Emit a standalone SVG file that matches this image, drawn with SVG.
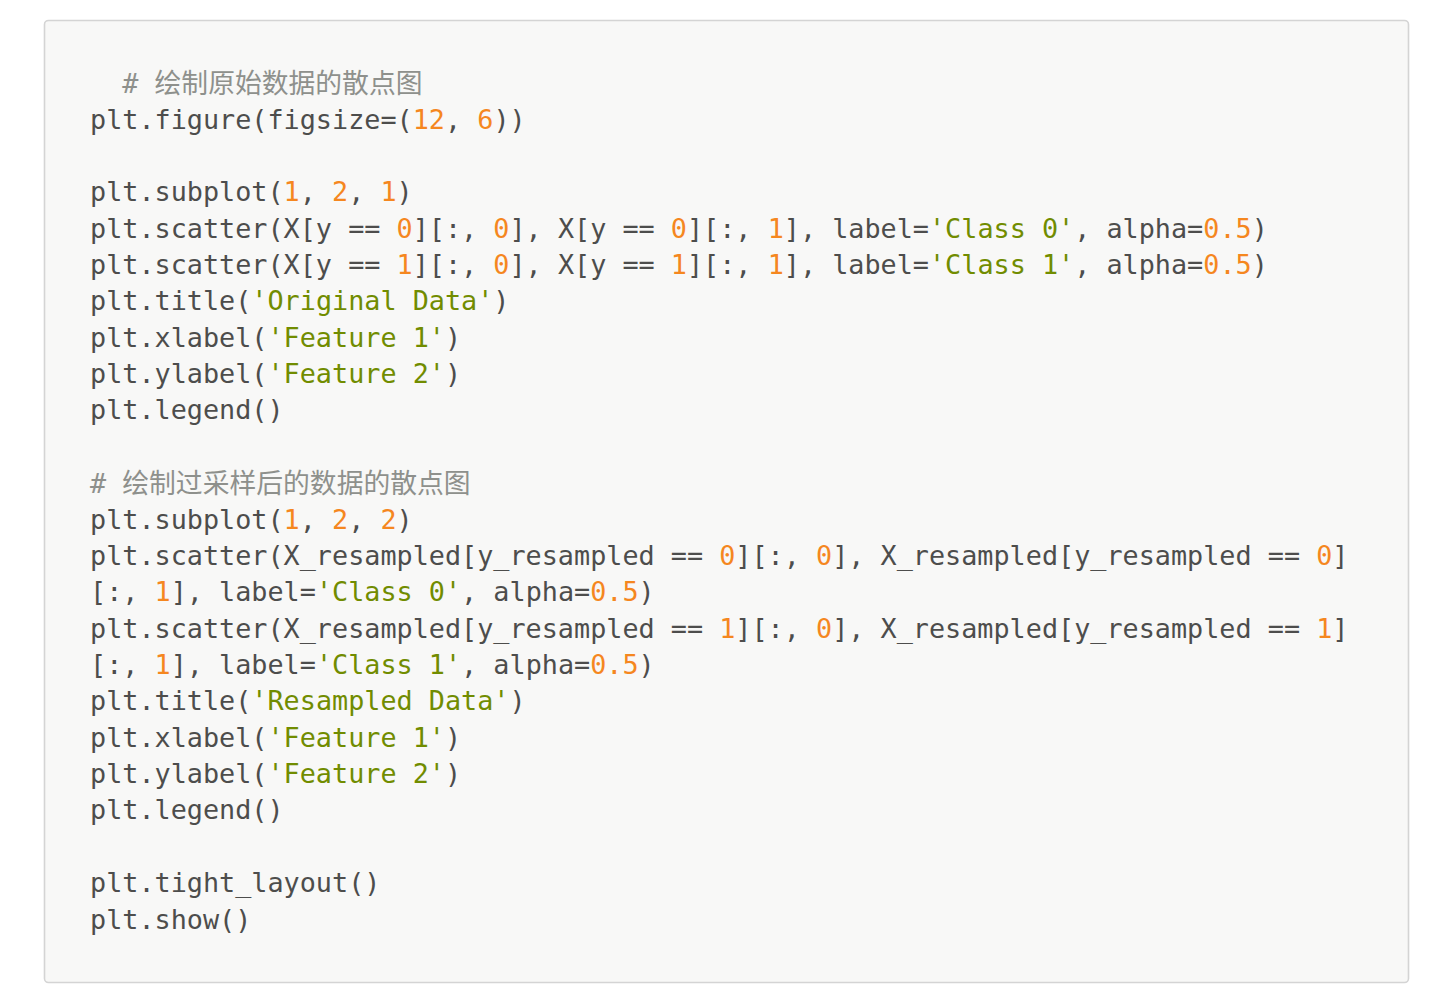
<svg xmlns="http://www.w3.org/2000/svg" width="1430" height="1002" viewBox="0 0 1430 1002">
<style>
text{font-family:"DejaVu Sans Mono","Noto Sans CJK SC",monospace;font-size:26.8px;fill:#4d4d4c;white-space:pre}
.c{fill:#8e908c}
.n{fill:#f5871f}
.s{fill:#718c00}
.cj{font-family:"Noto Sans CJK SC","DejaVu Sans Mono",sans-serif}
</style>
<rect x="44.5" y="20.5" width="1364" height="962" rx="4" fill="#f8f8f7" stroke="#d4d4d4" stroke-width="1.6"/>
<g id="code">
<text x="90" y="93" class="c" xml:space="preserve">  # <tspan class="cj">绘制原始数据的散点图</tspan></text>
<text x="90" y="128.5" xml:space="preserve">plt.figure(figsize=(<tspan class="n">12</tspan>, <tspan class="n">6</tspan>))</text>
<text x="90" y="201.2" xml:space="preserve">plt.subplot(<tspan class="n">1</tspan>, <tspan class="n">2</tspan>, <tspan class="n">1</tspan>)</text>
<text x="90" y="237.6" xml:space="preserve">plt.scatter(X[y == <tspan class="n">0</tspan>][:, <tspan class="n">0</tspan>], X[y == <tspan class="n">0</tspan>][:, <tspan class="n">1</tspan>], label=<tspan class="s">'Class 0'</tspan>, alpha=<tspan class="n">0.5</tspan>)</text>
<text x="90" y="273.9" xml:space="preserve">plt.scatter(X[y == <tspan class="n">1</tspan>][:, <tspan class="n">0</tspan>], X[y == <tspan class="n">1</tspan>][:, <tspan class="n">1</tspan>], label=<tspan class="s">'Class 1'</tspan>, alpha=<tspan class="n">0.5</tspan>)</text>
<text x="90" y="310.3" xml:space="preserve">plt.title(<tspan class="s">'Original Data'</tspan>)</text>
<text x="90" y="346.7" xml:space="preserve">plt.xlabel(<tspan class="s">'Feature 1'</tspan>)</text>
<text x="90" y="383" xml:space="preserve">plt.ylabel(<tspan class="s">'Feature 2'</tspan>)</text>
<text x="90" y="419.4" xml:space="preserve">plt.legend()</text>
<text x="90" y="493" class="c" xml:space="preserve"># <tspan class="cj">绘制过采样后的数据的散点图</tspan></text>
<text x="90" y="528.5" xml:space="preserve">plt.subplot(<tspan class="n">1</tspan>, <tspan class="n">2</tspan>, <tspan class="n">2</tspan>)</text>
<text x="90" y="564.8" xml:space="preserve">plt.scatter(X_resampled[y_resampled == <tspan class="n">0</tspan>][:, <tspan class="n">0</tspan>], X_resampled[y_resampled == <tspan class="n">0</tspan>]</text>
<text x="90" y="601.2" xml:space="preserve">[:, <tspan class="n">1</tspan>], label=<tspan class="s">'Class 0'</tspan>, alpha=<tspan class="n">0.5</tspan>)</text>
<text x="90" y="637.6" xml:space="preserve">plt.scatter(X_resampled[y_resampled == <tspan class="n">1</tspan>][:, <tspan class="n">0</tspan>], X_resampled[y_resampled == <tspan class="n">1</tspan>]</text>
<text x="90" y="673.9" xml:space="preserve">[:, <tspan class="n">1</tspan>], label=<tspan class="s">'Class 1'</tspan>, alpha=<tspan class="n">0.5</tspan>)</text>
<text x="90" y="710.3" xml:space="preserve">plt.title(<tspan class="s">'Resampled Data'</tspan>)</text>
<text x="90" y="746.7" xml:space="preserve">plt.xlabel(<tspan class="s">'Feature 1'</tspan>)</text>
<text x="90" y="783" xml:space="preserve">plt.ylabel(<tspan class="s">'Feature 2'</tspan>)</text>
<text x="90" y="819.4" xml:space="preserve">plt.legend()</text>
<text x="90" y="892.1" xml:space="preserve">plt.tight_layout()</text>
<text x="90" y="928.5" xml:space="preserve">plt.show()</text>
</g>
</svg>
